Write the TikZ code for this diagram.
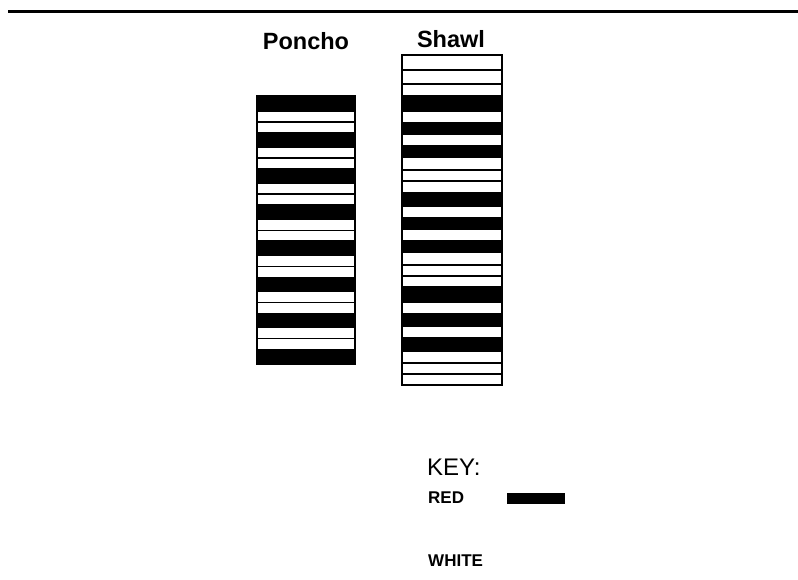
\documentclass[tikz,border=0pt]{standalone}
\usepackage{fontspec}
\setmainfont{Liberation Sans}
\begin{document}
\begin{tikzpicture}[x=1pt,y=-1pt,
  title/.style={font=\bfseries\fontsize{23.5}{24}\selectfont, anchor=base, inner sep=0pt},
  keylbl/.style={font=\fontsize{24}{24}\selectfont, anchor=base west, inner sep=0pt},
  keyitem/.style={font=\bfseries\fontsize{17}{17}\selectfont, anchor=base west, inner sep=0pt},
  frame/.style={draw=black, line width=1.6pt},
  sep/.style={draw=black, line width=1.4pt},
  band/.style={fill=black}]
\useasboundingbox (0,0) rectangle (798,579);
% top rule
\draw[line width=2.8pt] (8,11.5) -- (798,11.5);
% titles
\node[title] (tp) at (306,49) {Poncho};
\node[title] (ts) at (451,47) {Shawl};
% Poncho
\foreach \k in {0,...,7}{
  \pgfmathsetmacro{\ys}{96+36.1*\k}
  \fill[band] (257,\ys) rectangle (355,\ys+15.6);
}
\foreach \k in {0,...,6}{
  \pgfmathsetmacro{\ym}{96+36.1*\k+15.6+10.3}
  \draw[sep] (257,\ym) -- (355,\ym);
}
\draw[frame] (257,96) rectangle (355,364);
% Shawl
\foreach \a/\b in {95/112,122/135,145/158,192/207,217/230,240/253,286/303,313/327,337/352}{
  \fill[band] (402,\a) rectangle (502,\b);
}
\foreach \y in {70,84,170,181,265,276,363,374}{
  \draw[sep] (402,\y) -- (502,\y);
}
\draw[frame] (402,55) rectangle (502,385);
% Key
\node[keylbl] (key) at (427,475) {KEY:};
\node[keyitem] (red) at (428,503.5) {RED};
\fill[black] (507,493) rectangle (565,503.5);
\node[keyitem] (white) at (428,566) {WHITE};
\end{tikzpicture}
\end{document}
